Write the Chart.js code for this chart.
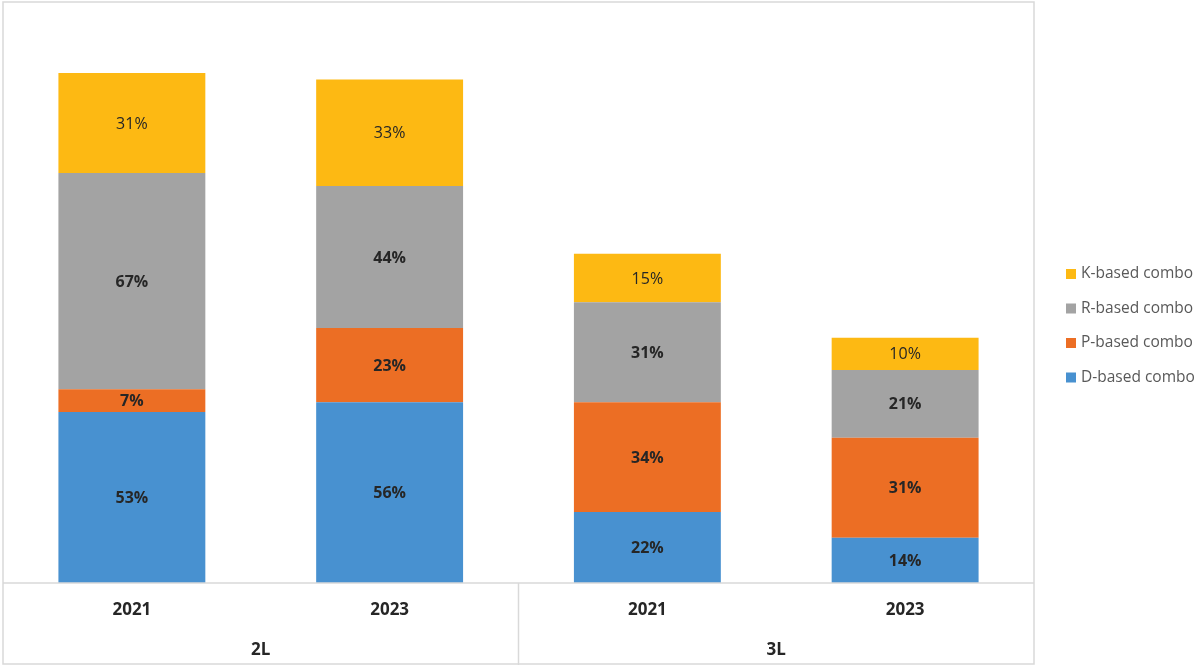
<!DOCTYPE html>
<html>
<head>
<meta charset="utf-8">
<script src="https://cdn.jsdelivr.net/npm/chart.js@4/dist/chart.umd.min.js"></script>
<style>
  html, body { margin: 0; padding: 0; background: #fff; }
  #wrap { width: 1200px; height: 665px; }
</style>
</head>
<body>
<div id="wrap"><canvas id="comboChart" width="1200" height="665"></canvas></div>
<script>
// years on the inner axis, line groups on the outer axis
const years = ['2021', '2023', '2021', '2023'];
const groups = ['2L', '3L'];

// share of each combo type (%), per bar
const dBased = [53, 56, 22, 14];
const pBased = [7, 23, 34, 31];
const rBased = [67, 44, 31, 21];
const kBased = [31, 33, 15, 10];

const frameColor = '#d9d9d9';
const fontFamily = '"Open Sans", "Noto Sans", sans-serif';

// frame round the plot and the axis area, with the group separators
const framePlugin = {
    id: 'frame',
    afterDraw(chart) {
        const c = chart.ctx;
        const area = chart.chartArea;
        const x2 = chart.scales.x2;
        c.save();
        c.strokeStyle = frameColor;
        c.lineWidth = 1.5;
        c.strokeRect(area.left, area.top, area.right - area.left, chart.height - area.top - 1);
        c.beginPath();
        c.moveTo(area.left, area.bottom);
        c.lineTo(area.right, area.bottom);
        for (let i = 1; i < groups.length; i++) {
            const xs = (x2.getPixelForValue(i - 1) + x2.getPixelForValue(i)) / 2;
            c.moveTo(xs, area.bottom);
            c.lineTo(xs, chart.height);
        }
        c.stroke();
        c.restore();
    }
};

// percent labels in the middle of each segment
const segmentLabels = {
    id: 'segmentLabels',
    afterDatasetsDraw(chart) {
        const c = chart.ctx;
        c.save();
        c.textAlign = 'center';
        c.textBaseline = 'middle';
        chart.data.datasets.forEach((ds, i) => {
            const meta = chart.getDatasetMeta(i);
            c.font = (ds.label.startsWith('K') ? '' : 'bold ') + '16px ' + fontFamily;
            c.fillStyle = '#262626';
            meta.data.forEach((bar, j) => {
                const p = bar.getCenterPoint();
                c.fillText(ds.data[j] + '%', p.x, p.y + 1);
            });
        });
        c.restore();
    }
};

// legend on the right, reversed order like the original
const sideLegend = {
    id: 'sideLegend',
    afterDraw(chart) {
        const c = chart.ctx;
        const items = chart.data.datasets.slice().reverse();
        c.save();
        c.font = '15.5px ' + fontFamily;
        c.textBaseline = 'middle';
        items.forEach((ds, i) => {
            const y = 274 + i * 34.5;
            c.fillStyle = ds.backgroundColor;
            c.fillRect(1066, y - 5, 10, 10);
            c.fillStyle = '#595959';
            c.fillText(ds.label, 1081, y);
        });
        c.restore();
    }
};

const ctx = document.getElementById('comboChart').getContext('2d');
const comboChart = new Chart(ctx, {
    type: 'bar',
    data: {
        labels: years,
        datasets: [
            { label: 'D-based combo', data: dBased, backgroundColor: '#4891d0' },
            { label: 'P-based combo', data: pBased, backgroundColor: '#ec6e24' },
            { label: 'R-based combo', data: rBased, backgroundColor: '#a3a3a3' },
            { label: 'K-based combo', data: kBased, backgroundColor: '#fdb913' }
        ]
    },
    options: {
        responsive: false,
        animation: false,
        layout: { padding: { left: 3, top: 2, right: 166, bottom: 0 } },
        datasets: {
            bar: { barPercentage: 0.57, categoryPercentage: 1.0, borderWidth: 0 }
        },
        scales: {
            x: {
                stacked: true,
                weight: 0,
                grid: { display: false, drawTicks: false },
                border: { display: false },
                ticks: { color: '#262626', padding: 17, font: { family: fontFamily, size: 17, weight: 'bold' } },
                afterFit(scale) { scale.height = 40; }
            },
            x2: {
                type: 'category',
                labels: groups,
                position: 'bottom',
                offset: true,
                weight: 1,
                grid: { display: false, drawTicks: false },
                border: { display: false },
                ticks: { color: '#262626', padding: 17, font: { family: fontFamily, size: 17, weight: 'bold' } },
                afterFit(scale) { scale.height = 42; }
            },
            y: {
                stacked: true,
                min: 0,
                max: 180,
                display: false
            }
        },
        plugins: {
            legend: { display: false },
            tooltip: { enabled: false }
        }
    },
    plugins: [framePlugin, segmentLabels, sideLegend]
});
</script>
</body>
</html>
